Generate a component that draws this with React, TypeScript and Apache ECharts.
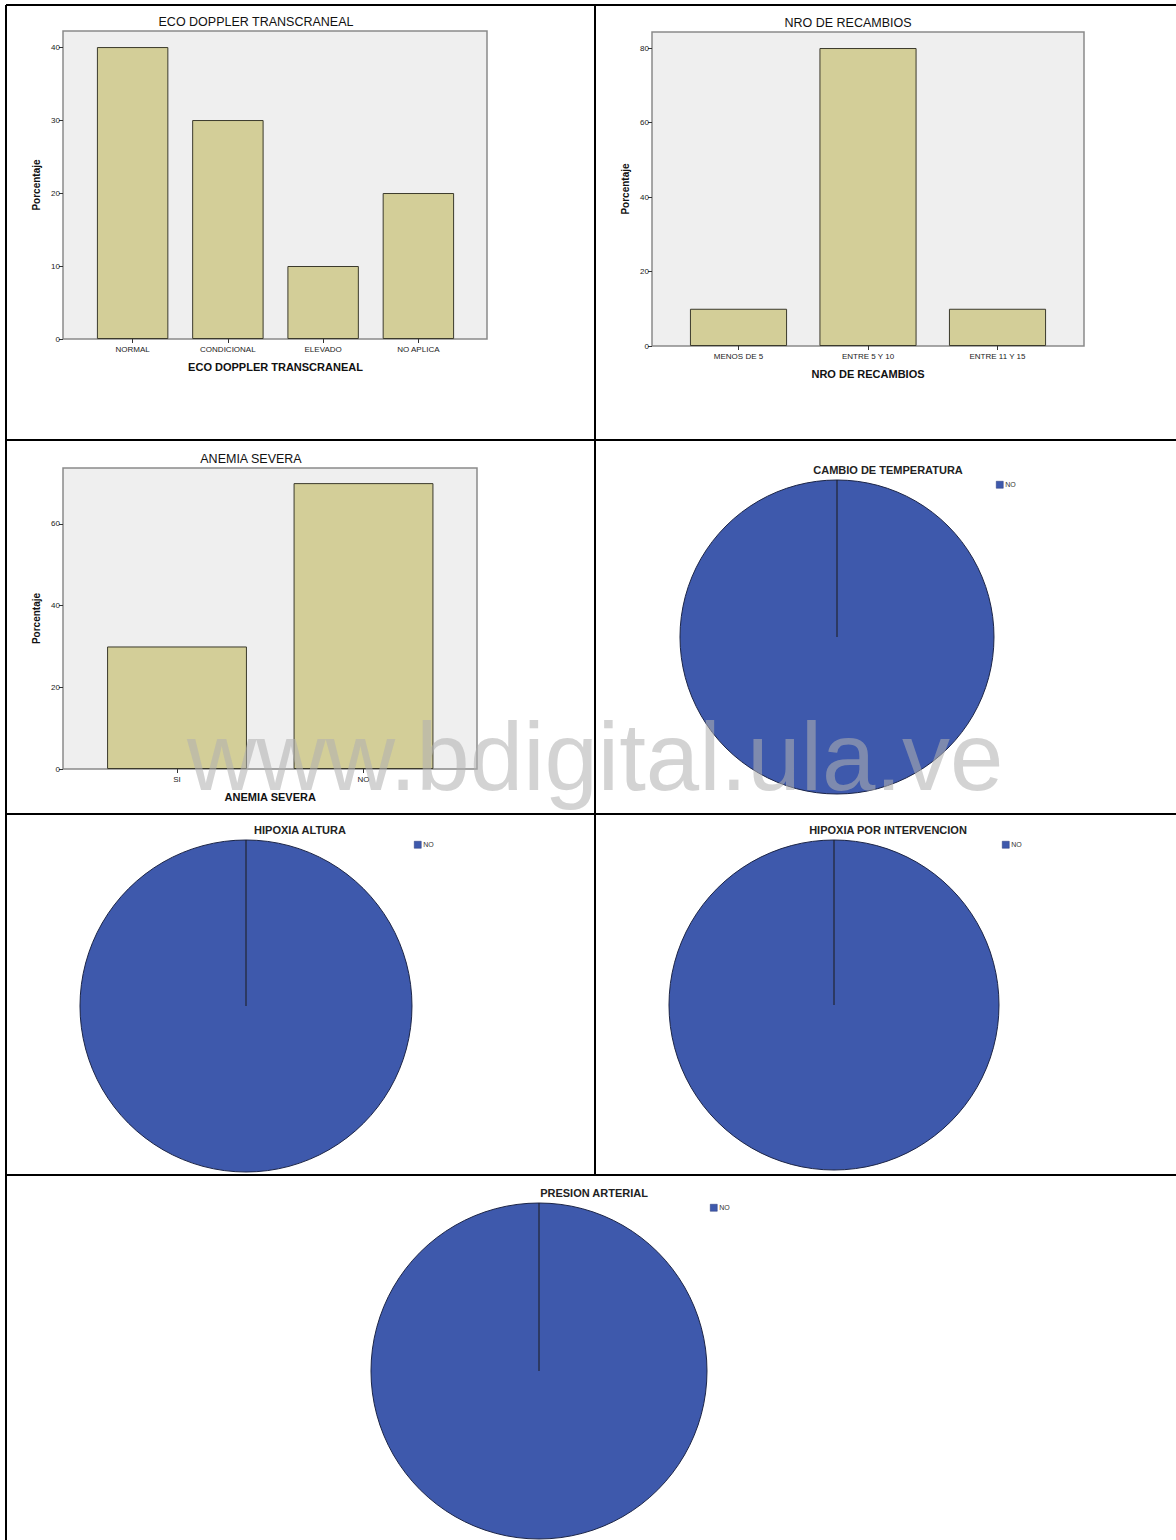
import React, { useEffect, useRef } from 'react';
import * as echarts from 'echarts';

// Page size
const W = 1176;
const H = 1540;

// ---- Data ----
const ecoCategories = ['NORMAL', 'CONDICIONAL', 'ELEVADO', 'NO APLICA'];
const ecoValues = [40, 30, 10, 20];
const ecoTicks = [0, 10, 20, 30, 40];

const recambiosCategories = ['MENOS DE 5', 'ENTRE 5 Y 10', 'ENTRE 11 Y 15'];
const recambiosValues = [10, 80, 10];
const recambiosTicks = [0, 20, 40, 60, 80];

const anemiaCategories = ['SI', 'NO'];
const anemiaValues = [30, 70];
const anemiaTicks = [0, 20, 40, 60];

const pieCategories = ['NO'];
const temperaturaValues = [100];
const hipoxiaAlturaValues = [100];
const hipoxiaIntervencionValues = [100];
const presionValues = [100];

// ---- Styling ----
const FONT = '"Liberation Sans", Arial, sans-serif';
const BAR_FILL = '#d3ce98';
const BAR_EDGE = '#3b3a2c';
const PLOT_BG = '#efefef';
const PLOT_EDGE = '#8a8a8a';
const PIE_FILL = '#3e59ac';
const PIE_EDGE = '#1c2547';

type BarPanel = {
  title: string;
  axisName: string;
  categories: string[];
  values: number[];
  ticks: number[];
  yMax: number;
  box: { x: number; y: number; w: number; h: number };
  plotLeft: number;
  plotWidth: number;
  titleX: number;
  titleY: number;
};

const barPanels: BarPanel[] = [
  {
    title: 'ECO DOPPLER TRANSCRANEAL',
    axisName: 'ECO DOPPLER TRANSCRANEAL',
    categories: ecoCategories,
    values: ecoValues,
    ticks: ecoTicks,
    yMax: 42.2,
    box: { x: 63, y: 31, w: 424, h: 308 },
    plotLeft: 85,
    plotWidth: 381,
    titleX: 256,
    titleY: 21,
  },
  {
    title: 'NRO DE RECAMBIOS',
    axisName: 'NRO DE RECAMBIOS',
    categories: recambiosCategories,
    values: recambiosValues,
    ticks: recambiosTicks,
    yMax: 84.3,
    box: { x: 652, y: 32, w: 432, h: 314 },
    plotLeft: 673.75,
    plotWidth: 388.5,
    titleX: 848,
    titleY: 22,
  },
  {
    title: 'ANEMIA SEVERA',
    axisName: 'ANEMIA SEVERA',
    categories: anemiaCategories,
    values: anemiaValues,
    ticks: anemiaTicks,
    yMax: 73.7,
    box: { x: 63, y: 468, w: 414, h: 301 },
    plotLeft: 83.75,
    plotWidth: 373,
    titleX: 251,
    titleY: 458,
  },
];

type PiePanel = {
  title: string;
  values: number[];
  cx: number;
  cy: number;
  r: number;
  titleX: number;
  titleY: number;
  legendX: number;
  legendY: number;
};

const piePanels: PiePanel[] = [
  { title: 'CAMBIO DE TEMPERATURA', values: temperaturaValues, cx: 837, cy: 637, r: 157, titleX: 888, titleY: 470, legendX: 996, legendY: 485 },
  { title: 'HIPOXIA ALTURA', values: hipoxiaAlturaValues, cx: 246, cy: 1006, r: 166, titleX: 300, titleY: 830, legendX: 414, legendY: 845 },
  { title: 'HIPOXIA POR INTERVENCION', values: hipoxiaIntervencionValues, cx: 834, cy: 1005, r: 165, titleX: 888, titleY: 830, legendX: 1002, legendY: 845 },
  { title: 'PRESION ARTERIAL', values: presionValues, cx: 539, cy: 1371, r: 168, titleX: 594, titleY: 1193, legendX: 710, legendY: 1208 },
];

// Table rules of the surrounding layout
const tableLines = [
  [6, 5, 1176, 5],
  [6, 440, 1176, 440],
  [6, 814, 1176, 814],
  [6, 1175, 1176, 1175],
  [6, 5, 6, 1540],
  [595, 5, 595, 1175],
];

function buildOption() {
  const titles: any[] = [];
  const grids: any[] = [];
  const xAxes: any[] = [];
  const yAxes: any[] = [];
  const series: any[] = [];
  const legends: any[] = [];
  const graphics: any[] = [];

  barPanels.forEach((p, i) => {
    titles.push({
      text: p.title,
      left: p.titleX,
      top: p.titleY - 6,
      textAlign: 'center',
      padding: 0,
      textStyle: { fontFamily: FONT, fontSize: 12.5, fontWeight: 'normal', color: '#111' },
    });
    graphics.push({
      type: 'rect',
      z: 0,
      shape: { x: p.box.x, y: p.box.y, width: p.box.w, height: p.box.h },
      style: { fill: PLOT_BG, stroke: PLOT_EDGE, lineWidth: 1.5 },
    });
    grids.push({ left: p.plotLeft, top: p.box.y, width: p.plotWidth, height: p.box.h, containLabel: false });
    xAxes.push({
      type: 'category',
      gridIndex: i,
      data: p.categories,
      axisLine: { show: false },
      axisTick: { show: true, alignWithLabel: true, length: 4, lineStyle: { color: '#333' } },
      axisLabel: { fontFamily: FONT, fontSize: 8, color: '#222', margin: 6 },
      name: p.axisName,
      nameLocation: 'middle',
      nameGap: 22,
      nameTextStyle: { fontFamily: FONT, fontSize: 11, fontWeight: 'bold', color: '#111' },
    });
    yAxes.push({
      type: 'value',
      gridIndex: i,
      min: 0,
      max: p.yMax,
      offset: p.plotLeft - p.box.x,
      axisLine: { show: false },
      axisTick: { show: true, length: 4, customValues: p.ticks, lineStyle: { color: '#333' } },
      axisLabel: { fontFamily: FONT, fontSize: 8, color: '#222', margin: 3, customValues: p.ticks },
      splitLine: { show: false },
      name: 'Porcentaje',
      nameLocation: 'middle',
      nameRotate: 90,
      nameGap: 22,
      nameTextStyle: { fontFamily: FONT, fontSize: 10, fontWeight: 'bold', color: '#111' },
    });
    series.push({
      type: 'bar',
      xAxisIndex: i,
      yAxisIndex: i,
      data: p.values,
      barWidth: '75%',
      itemStyle: { color: BAR_FILL, borderColor: BAR_EDGE, borderWidth: 1 },
      z: 2,
    });
  });

  piePanels.forEach((p) => {
    titles.push({
      text: p.title,
      left: p.titleX,
      top: p.titleY - 6,
      textAlign: 'center',
      padding: 0,
      textStyle: { fontFamily: FONT, fontSize: 11, fontWeight: 'bold', color: '#222' },
    });
    legends.push({
      data: pieCategories,
      left: p.legendX,
      top: p.legendY - 4,
      padding: 0,
      icon: 'rect',
      itemWidth: 7,
      itemHeight: 7,
      itemGap: 4,
      selectedMode: false,
      itemStyle: { borderColor: '#2a3a7a', borderWidth: 0.5 },
      textStyle: { fontFamily: FONT, fontSize: 7, color: '#333', padding: [0, 0, 0, -3] },
    });
    series.push({
      type: 'pie',
      center: [p.cx, p.cy],
      radius: p.r,
      startAngle: 90,
      clockwise: true,
      label: { show: false },
      labelLine: { show: false },
      emphasis: { disabled: true },
      itemStyle: { color: PIE_FILL, borderColor: PIE_EDGE, borderWidth: 1 },
      data: pieCategories.map((name, k) => ({ name, value: p.values[k] })),
    });
    // Slice boundary from the centre to the start angle
    graphics.push({
      type: 'line',
      z: 10,
      shape: { x1: p.cx, y1: p.cy, x2: p.cx, y2: p.cy - p.r },
      style: { stroke: '#1a1a1a', lineWidth: 1 },
    });
  });

  tableLines.forEach(([x1, y1, x2, y2]) => {
    graphics.push({
      type: 'line',
      z: 50,
      shape: { x1, y1, x2, y2 },
      style: { stroke: '#000', lineWidth: 2 },
    });
  });

  graphics.push({
    type: 'text',
    z: 100,
    x: 187,
    y: 756,
    style: {
      text: 'www.bdigital.ula.ve',
      fontFamily: FONT,
      fontSize: 96,
      fill: 'rgba(177,177,177,0.56)',
      verticalAlign: 'middle',
      align: 'left',
    },
  });

  return {
    animation: false,
    backgroundColor: '#fff',
    title: titles,
    legend: legends,
    grid: grids,
    xAxis: xAxes,
    yAxis: yAxes,
    series,
    graphic: graphics,
  };
}

export default function App() {
  const ref = useRef<HTMLDivElement>(null);

  useEffect(() => {
    if (!ref.current) return;
    const chart = echarts.init(ref.current, undefined, { renderer: 'svg', width: W, height: H });
    chart.setOption(buildOption());
    return () => chart.dispose();
  }, []);

  return (
    <div style={{ position: 'absolute', left: 0, top: 0, width: W, height: H, background: '#fff' }}>
      <div ref={ref} style={{ width: W, height: H }} />
    </div>
  );
}
